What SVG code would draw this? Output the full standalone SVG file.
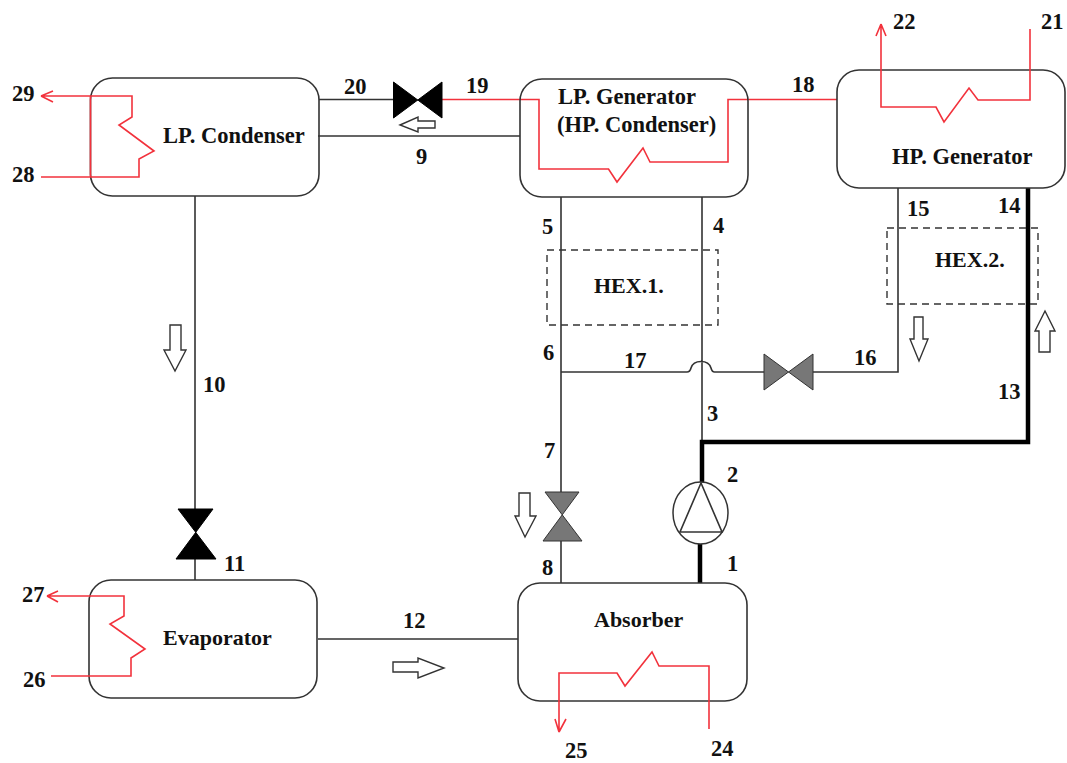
<svg xmlns="http://www.w3.org/2000/svg" width="1067" height="763" viewBox="0 0 1067 763">
<style>
text{font-family:"Liberation Serif","Times New Roman",serif;font-weight:bold;font-size:22.5px;fill:#111}
.s{font-size:22px}
.box{fill:#fff;fill-opacity:0;stroke:#333;stroke-width:1.6}
.p{fill:none;stroke:#333;stroke-width:1.6}
.t{fill:none;stroke:#000;stroke-width:4.5}
.r{fill:none;stroke:#f2323c;stroke-width:1.6}
.d{fill:none;stroke:#333;stroke-width:1.4;stroke-dasharray:7 5}
.a{fill:#fff;stroke:#333;stroke-width:1.4}
.k{fill:#000;stroke:#000;stroke-width:1}
.g{fill:#777;stroke:#333;stroke-width:1}
</style>
<rect width="1067" height="763" fill="#fff"/>
<g id="connectors">
<path class="p" d="M319 99.5H393M318 136H520M195 196V509M195 559V580M318 639H518M561 197V492M561 541V583M702 197V443M898 188V372H813M764 372H714.500Q712 372 711 368Q709 361.500 701 361.500Q693 361.500 691 368Q690 372 687 372H561"/>
<path class="t" d="M1028 188V442H702V482M700 544V583"/>
<path class="r" d="M442 99.5H539V169H608.500L617 182L643 148L650 162H728V99.500H837"/>
<rect class="d" x="547" y="250" width="171" height="75"/>
<rect class="d" x="887" y="228" width="151" height="76"/>
<path class="a" d="M400 125L418 117V121H435V128H418V132Z"/>
<path class="a" d="M170 325H181V350H186L175 371L164 350H170Z"/>
<path class="a" d="M393 662H418V658L444 668L418 678V672H393Z"/>
<path class="a" d="M519 493H530V516H536L525 537L515 516H519Z"/>
<path class="a" d="M914 317H923V339H928L919 361L910 339H914Z"/>
<path class="a" d="M1045 311L1055 331H1050V352H1039V331H1035Z"/>
</g>
<g id="lp-condenser">
<rect class="box" x="90.500" y="78" width="228.500" height="118" rx="22"/>
<path class="r" d="M41 96H132V117L119 125L154 151L139 159V177H41M90.500 96V177M41 96L53 91M41 96L53 102"/>
<text x="163" y="143">LP. Condenser</text>
</g>
<g id="lp-generator">
<rect class="box" x="520" y="79" width="228" height="118" rx="22"/>
<text x="558" y="104">LP. Generator</text>
<text x="557" y="132">(HP. Condenser)</text>
</g>
<g id="hp-generator">
<rect class="box" x="837" y="70" width="228" height="118" rx="22"/>
<path class="r" d="M881 24V107H936L944 122L969 88L978 100H1030V29M881 24L876 36M881 24L886 36"/>
<text x="892" y="164">HP. Generator</text>
</g>
<g id="evaporator">
<rect class="box" x="89" y="580" width="228" height="118" rx="22"/>
<path class="r" d="M47 596H124V616L110 624L145 649L131 658V676H51M47 596L58 591M47 596L58 602"/>
<text class="s" x="163" y="645">Evaporator</text>
</g>
<g id="absorber">
<rect class="box" x="518" y="583" width="229" height="118" rx="22"/>
<path class="r" d="M559 732V673H617L625 686L652 652L659 666H709V729M559 732L555 719M559 732L566 719"/>
<text class="s" x="594" y="627">Absorber</text>
</g>
<g id="valve-20-19"><path class="k" d="M393.500 82L442 118V82L393.500 118Z"/></g>
<g id="valve-17-16"><path class="g" d="M764 354L813 390V354L764 390Z"/></g>
<g id="valve-7-8"><path class="g" d="M545 492H579L543 541H582Z"/></g>
<g id="valve-10-11"><path class="k" d="M178 509H213L176 559H216Z"/></g>
<g id="pump">
<ellipse cx="700.500" cy="513" rx="27.500" ry="31" fill="#fff" stroke="#333" stroke-width="1.500"/>
<path class="p" d="M701 483L680 532H722Z"/>
</g>
<g id="hex-labels">
<text class="s" x="594" y="293">HEX.1.</text>
<text class="s" x="935" y="267">HEX.2.</text>
</g>
<g id="labels">
<text x="12" y="101">29</text>
<text x="12" y="182">28</text>
<text x="344" y="94">20</text>
<text x="466" y="93">19</text>
<text x="416" y="164">9</text>
<text x="792" y="92">18</text>
<text x="893" y="29">22</text>
<text x="1041" y="29">21</text>
<text x="907" y="216">15</text>
<text x="998" y="213">14</text>
<text x="542" y="234">5</text>
<text x="713" y="233">4</text>
<text x="543" y="360">6</text>
<text x="624" y="368">17</text>
<text x="854" y="365">16</text>
<text x="707" y="421">3</text>
<text x="998" y="399">13</text>
<text x="544" y="458">7</text>
<text x="727" y="482">2</text>
<text x="727" y="571">1</text>
<text x="542" y="575">8</text>
<text x="565" y="758">25</text>
<text x="711" y="756">24</text>
<text x="224" y="571">11</text>
<text x="22" y="602">27</text>
<text x="23" y="687">26</text>
<text x="403" y="628">12</text>
<text x="203" y="392">10</text>
</g>
</svg>
